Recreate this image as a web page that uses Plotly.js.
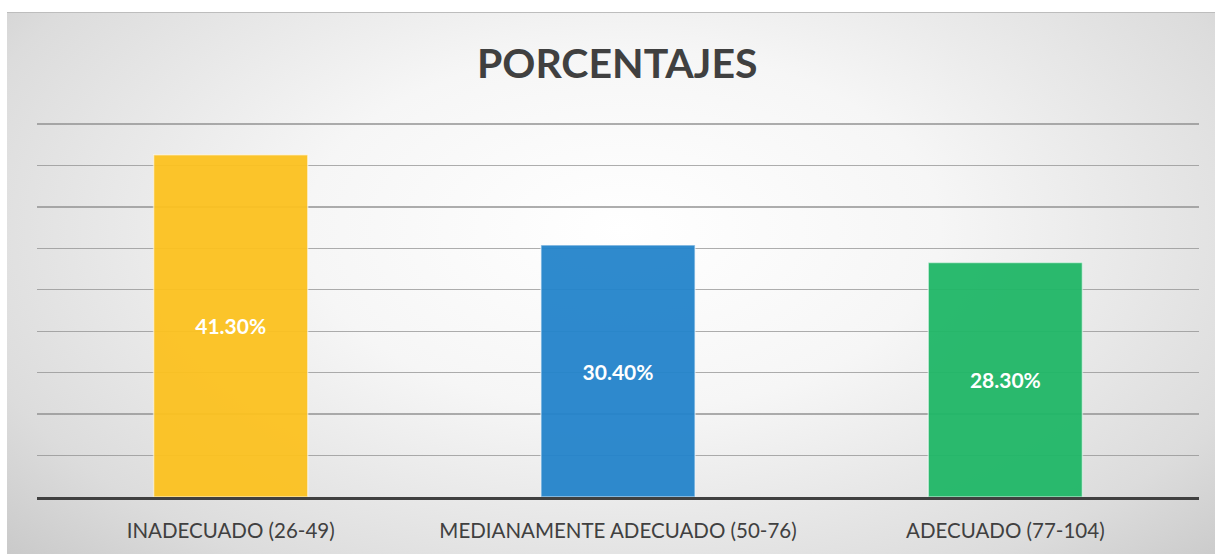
<!DOCTYPE html>
<html>
<head>
<meta charset="utf-8">
<script src="https://cdn.plot.ly/plotly-3.0.1.min.js"></script>
<style>
  html, body { margin: 0; padding: 0; background: #ffffff; }
  #wrap { position: relative; width: 1215px; height: 554px; background: #ffffff; overflow: hidden; }
  #bg { position: absolute; left: 7px; top: 12px; width: 1208px; height: 542px;
        border-top: 1px solid #bdbdbd;
        background: radial-gradient(ellipse 75% 95% at 51% 40%, #ffffff 0%, #f6f6f6 35%, #dcdcdc 75%, #c2c2c2 100%); }
  #chart { position: absolute; left: 0; top: 0; width: 1215px; height: 554px; }
</style>
</head>
<body>
<div id="wrap">
  <div id="bg"></div>
  <div id="chart"></div>
</div>
<script>
const categories = ["INADECUADO (26-49)", "MEDIANAMENTE ADECUADO (50-76)", "ADECUADO (77-104)"];
const values = [41.3, 30.4, 28.3];
const valueLabels = ["41.30%", "30.40%", "28.30%"];
const barColors = ["rgb(252,194,32)", "rgb(36,132,203)", "rgb(32,183,103)"];
const chartTitle = "PORCENTAJES";

const trace = {
  type: "bar",
  x: categories,
  y: values,
  text: valueLabels,
  textposition: "inside",
  insidetextanchor: "middle",
  textangle: 0,
  texttemplate: "%{text}",
  textfont: { family: "Lato, 'Open Sans', sans-serif", size: 21, color: "#ffffff", weight: "bold" },
  marker: { color: barColors, opacity: 0.95, line: { color: "rgba(255,255,255,0.55)", width: 1.5 } },
  hoverinfo: "none"
};

const layout = {
  width: 1215,
  height: 554,
  paper_bgcolor: "rgba(0,0,0,0)",
  plot_bgcolor: "rgba(0,0,0,0)",
  margin: { l: 37, r: 16, t: 122, b: 57 },
  showlegend: false,
  bargap: 0.602,
  title: {
    text: "<b>" + chartTitle + "</b>",
    x: 0.508, xanchor: "center",
    y: 0.885, yanchor: "middle",
    font: { family: "Lato, 'Open Sans', sans-serif", size: 41, color: "#404040" }
  },
  xaxis: {
    type: "category",
    showgrid: false,
    showline: true,
    linecolor: "#404040",
    linewidth: 3,
    ticks: "",
    ticklabelstandoff: 13,
    tickfont: { family: "Lato, 'Open Sans', sans-serif", size: 20.5, color: "#404040" },
    fixedrange: true
  },
  yaxis: {
    range: [0, 45.25],
    tickvals: [0, 5, 10, 15, 20, 25, 30, 35, 40, 45],
    showgrid: true,
    gridcolor: "rgba(140,140,140,0.7)",
    gridwidth: 1.3,
    zeroline: false,
    showticklabels: false,
    ticks: "",
    fixedrange: true
  }
};

Plotly.newPlot("chart", [trace], layout, { displayModeBar: false, staticPlot: true });
</script>
</body>
</html>
